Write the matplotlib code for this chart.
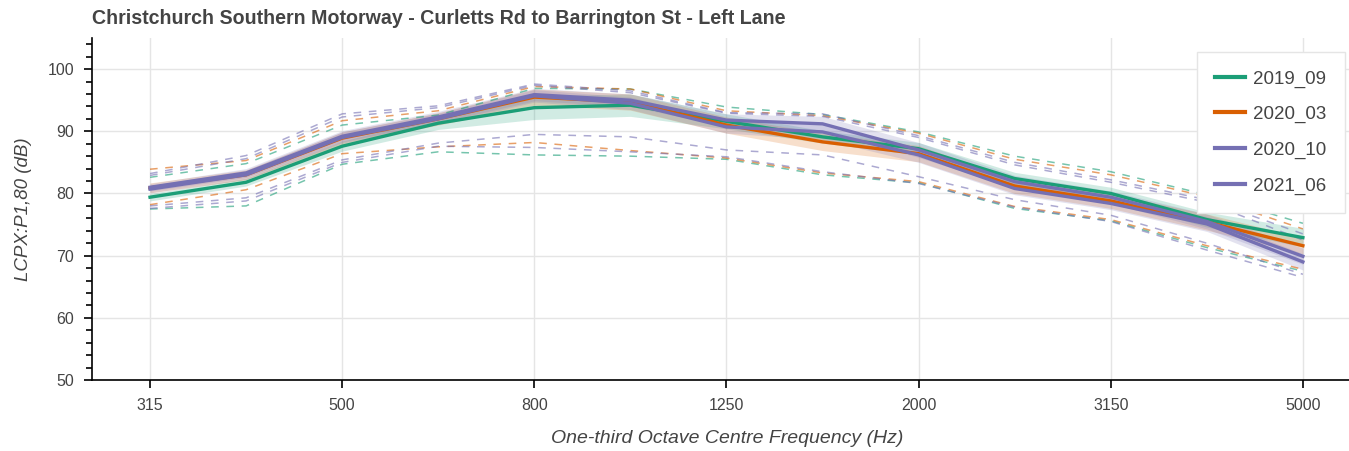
import numpy as np
import matplotlib.pyplot as plt
from matplotlib.ticker import MultipleLocator

plt.rcParams['font.family'] = ['Liberation Sans', 'DejaVu Sans']

# one-third octave centre frequencies
freqs = ["315", "400", "500", "630", "800", "1000", "1250", "1600",
         "2000", "2500", "3150", "4000", "5000"]

series = ["2019_09", "2020_03", "2020_10", "2021_06"]
colors = ["#1b9e77", "#d95f02", "#7570b3", "#7570b3"]

# mean levels (dB)
mean_2019_09 = [79.4, 81.8, 87.6, 91.3, 93.8, 94.2, 91.6, 89.1, 87.2, 82.4, 80.0, 75.8, 72.9]
mean_2020_03 = [80.9, 83.0, 88.9, 92.0, 95.5, 94.7, 91.0, 88.3, 86.4, 81.2, 78.8, 75.4, 71.6]
mean_2020_10 = [81.0, 83.3, 89.2, 92.3, 95.9, 95.0, 91.8, 91.2, 87.0, 81.9, 79.4, 75.5, 69.9]
mean_2021_06 = [80.7, 83.0, 89.0, 92.0, 95.7, 94.5, 90.7, 89.9, 86.2, 80.8, 78.4, 75.1, 69.0]

# spread shown as shaded band (+/-)
std_2019_09 = [0.6, 0.6, 0.8, 1.0, 1.9, 1.8, 1.2, 1.0, 1.0, 1.0, 1.0, 1.2, 1.5]
std_2020_03 = [0.8, 0.8, 1.0, 1.0, 1.3, 1.3, 1.3, 1.4, 1.3, 1.2, 1.2, 1.3, 1.3]
std_2020_10 = [0.6, 0.7, 0.9, 0.9, 1.0, 1.0, 1.0, 1.2, 1.2, 1.0, 1.0, 1.2, 1.3]
std_2021_06 = [0.6, 0.7, 0.9, 0.9, 1.0, 1.0, 1.0, 1.2, 1.2, 1.0, 1.0, 1.2, 1.3]

# upper / lower dashed limits
upper_2019_09 = [82.6, 84.8, 91.0, 92.6, 96.9, 96.8, 93.9, 92.7, 89.9, 86.0, 83.5, 79.8, 75.2]
upper_2020_03 = [83.9, 85.3, 91.7, 93.3, 97.2, 96.8, 93.3, 92.5, 89.7, 85.5, 83.0, 79.5, 74.3]
upper_2020_10 = [83.2, 86.1, 92.8, 94.1, 97.6, 96.5, 93.0, 92.8, 89.3, 85.0, 82.2, 79.0, 73.5]
upper_2021_06 = [82.9, 85.6, 92.3, 93.8, 97.4, 96.2, 92.9, 92.4, 89.0, 84.6, 81.8, 78.6, 72.5]

lower_2019_09 = [77.5, 78.0, 84.7, 86.7, 86.2, 86.0, 85.5, 83.0, 81.7, 77.6, 75.6, 71.3, 67.5]
lower_2020_03 = [78.2, 80.6, 86.4, 87.5, 88.2, 86.9, 85.7, 83.3, 81.9, 77.9, 75.8, 71.6, 67.8]
lower_2020_10 = [78.0, 79.3, 85.4, 88.1, 89.5, 89.1, 87.0, 86.2, 82.7, 79.0, 76.5, 72.0, 67.0]
lower_2021_06 = [77.6, 78.8, 85.0, 87.6, 87.4, 86.7, 85.9, 83.5, 81.6, 77.8, 75.5, 70.9, 66.5]

means = [mean_2019_09, mean_2020_03, mean_2020_10, mean_2021_06]
stds = [std_2019_09, std_2020_03, std_2020_10, std_2021_06]
uppers = [upper_2019_09, upper_2020_03, upper_2020_10, upper_2021_06]
lowers = [lower_2019_09, lower_2020_03, lower_2020_10, lower_2021_06]

fig = plt.figure(figsize=(13.49, 4.51), dpi=100)
ax = fig.add_axes([0.0682, 0.1574, 0.9318, 0.7583])

x = np.arange(len(freqs))

# bands
for m, s, c in zip(means, stds, colors):
    m = np.array(m)
    s = np.array(s)
    ax.fill_between(x, m - s, m + s, color=c, alpha=0.2, lw=0, zorder=2)

# dashed limits
for u, l, c in zip(uppers, lowers, colors):
    ax.plot(x, u, color=c, lw=1.1, alpha=0.6, dashes=(5, 5), zorder=3)
    ax.plot(x, l, color=c, lw=1.1, alpha=0.6, dashes=(5, 5), zorder=3)

# mean lines
for m, c, name in zip(means, colors, series):
    ax.plot(x, m, color=c, lw=2.4, label=name, zorder=4)

ax.set_xlim(-0.604, 12.48)
ax.set_ylim(50, 105)
ax.set_xticks(x[::2])
ax.set_xticklabels(freqs[::2])
ax.yaxis.set_major_locator(MultipleLocator(10))
ax.yaxis.set_minor_locator(MultipleLocator(2))
ax.set_yticks([50, 60, 70, 80, 90, 100])

ax.grid(True, color='#e5e5e5', lw=1)
ax.set_axisbelow(True)
for sp in ['top', 'right']:
    ax.spines[sp].set_visible(False)
for sp in ['left', 'bottom']:
    ax.spines[sp].set_color('black')
    ax.spines[sp].set_linewidth(1.2)

ax.tick_params(axis='both', which='major', direction='out', length=6, width=1.2,
               labelsize=11.5, labelcolor='#444444', pad=7)
ax.tick_params(axis='y', which='minor', direction='out', length=4, width=1.2)
ax.tick_params(axis='x', which='minor', bottom=False)

ax.set_xlabel("One-third Octave Centre Frequency (Hz)", fontsize=14,
              style='italic', color='#444444', labelpad=11.5)
ax.xaxis.set_label_coords(0.505, -0.145)
ax.set_ylabel("LCPX:P1,80 (dB)", fontsize=13.5, style='italic',
              color='#444444', labelpad=11)

fig.text(0.0682, 0.96, "Christchurch Southern Motorway - Curletts Rd to Barrington St - Left Lane",
         fontsize=14.1, fontweight='bold', color='#444444', va='center', ha='left')

leg = ax.legend(loc='upper right', bbox_to_anchor=(0.997, 0.885),
                bbox_transform=fig.transFigure, fontsize=13.5, frameon=True,
                fancybox=False, edgecolor='#e5e5e5', framealpha=1.0,
                handlelength=1.6, labelspacing=0.98, borderpad=0.98,
                handletextpad=0.45, borderaxespad=0)
for t in leg.get_texts():
    t.set_color('#444444')
for h in leg.get_lines():
    h.set_linewidth(3)

fig.savefig("out.png", dpi=100)
